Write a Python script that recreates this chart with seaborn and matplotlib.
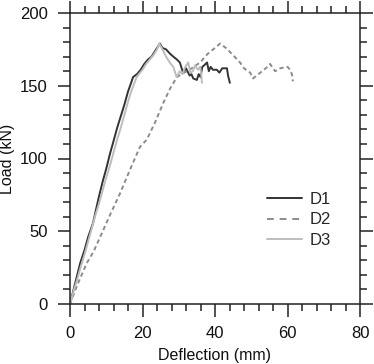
import matplotlib
matplotlib.use("Agg")
import matplotlib.pyplot as plt
from matplotlib.ticker import MultipleLocator
import pandas as pd
import seaborn as sns

# --- Datos ---
d1_x = [0, 1, 2, 2.8, 4, 5, 6.4, 7, 8, 9.1, 10, 11, 11.9, 13, 14, 15, 16, 17, 17.4, 18.5,
        19.5, 20.5, 21.5, 22.5, 23.5, 24.8, 25.5, 26.5, 27.6, 28.5, 29.5, 30.3, 30.8, 31.2, 32,
        33, 33.5, 34, 35, 35.5, 36, 36.5, 37, 37.8, 38.3, 38.8, 39.4, 40.5, 41.2, 42, 43.3,
        43.6, 44.1]
d1_y = [0, 10, 20, 28, 37, 46, 56, 63, 74, 85, 93, 103, 111, 121, 129, 137, 146, 153,
        156, 158, 161, 165, 168, 170, 174, 179, 176, 175, 172, 170, 168, 166, 162,
        159, 162, 157, 158, 155, 154, 158, 156, 163, 164, 166, 160, 163, 161, 161,
        159, 162, 162, 157, 152]

d2_x = [0, 2, 4.6, 6.5, 8.3, 11, 13.8, 16.5, 19.3, 21.2, 23.5, 25.7, 27.6, 29.5, 31.5,
        33, 35.9, 38, 40, 41.4, 43, 45, 46.9, 48, 49.7, 50.5, 52, 54, 55.2, 56, 56.6, 58,
        60, 60.7, 61.2, 61.5]
d2_y = [0, 13, 28, 36, 46, 61, 76, 92, 108, 113, 125, 138, 148, 156, 159, 161, 166,
        172, 176, 179, 176, 171, 166, 162, 159, 155, 158, 162, 165, 162, 160, 162,
        163, 161, 158, 153]

d3_x = [0, 1, 2, 3, 4, 5, 6, 7, 8, 9, 10, 11, 12, 13, 14, 15, 16, 17, 18.4, 19,
        20, 21, 22, 23, 24, 24.6, 25.3, 26.5, 27.5, 28.5, 29.4, 30.3, 31, 31.8, 32.6,
        33.2, 33.9, 34.5, 35.3, 35.9, 36.2, 36.4]
d3_y = [0, 9, 17, 26, 34, 43, 52, 61, 69, 78, 87, 95, 104, 113, 121, 130, 139, 147,
        156, 158, 161, 165, 168, 171, 175, 179, 176, 170, 166, 163, 156, 160, 158,
        163, 166, 159, 160, 164, 161, 163, 158, 152]

series = [
    ("D1", d1_x, d1_y, "#333333", "-"),
    ("D2", d2_x, d2_y, "#8c8c8c", (0, (2.2, 1.6))),
    ("D3", d3_x, d3_y, "#bdbdbd", "-"),
]

sns.set_style("ticks")
plt.rcParams["font.family"] = ["Liberation Sans", "DejaVu Sans"]

fig = plt.figure(figsize=(3.74, 3.64), dpi=100)
ax = fig.add_axes([70 / 374, 1 - 304 / 364, 290 / 374, 291 / 364])

for name, xs, ys, col, ls in series:
    df = pd.DataFrame({"x": xs, "y": ys})
    sns.lineplot(data=df, x="x", y="y", ax=ax, color=col, linestyle=ls,
                 linewidth=1.4, label=name, estimator=None)

ax.set_xlim(0, 80)
ax.set_ylim(0, 200)
ax.xaxis.set_major_locator(MultipleLocator(20))
ax.xaxis.set_minor_locator(MultipleLocator(4))
ax.yaxis.set_major_locator(MultipleLocator(50))
ax.yaxis.set_minor_locator(MultipleLocator(10))
ax.tick_params(which="both", direction="out", top=True, right=True,
               width=1.1, color="#222222", labelsize=12, labelcolor="#111111")
ax.tick_params(which="major", length=9, pad=7)
ax.tick_params(which="minor", length=5)
for s in ax.spines.values():
    s.set_visible(True)
    s.set_linewidth(1.1)
    s.set_color("#222222")

ax.set_xlabel("Deflection (mm)", fontsize=11.5, color="#111111", labelpad=5)
ax.set_ylabel("Load (kN)", fontsize=11.5, color="#111111")
ax.yaxis.set_label_coords(-0.19, 0.5)

leg = ax.legend(loc="center left", bbox_to_anchor=(0.68, 0.289), frameon=False,
                fontsize=12, handlelength=2.1, handletextpad=0.45, labelspacing=0.35,
                borderpad=0, borderaxespad=0)
leg.get_lines()[1].set_linestyle((0, (3.5, 3)))

fig.savefig("out.png", dpi=100)
